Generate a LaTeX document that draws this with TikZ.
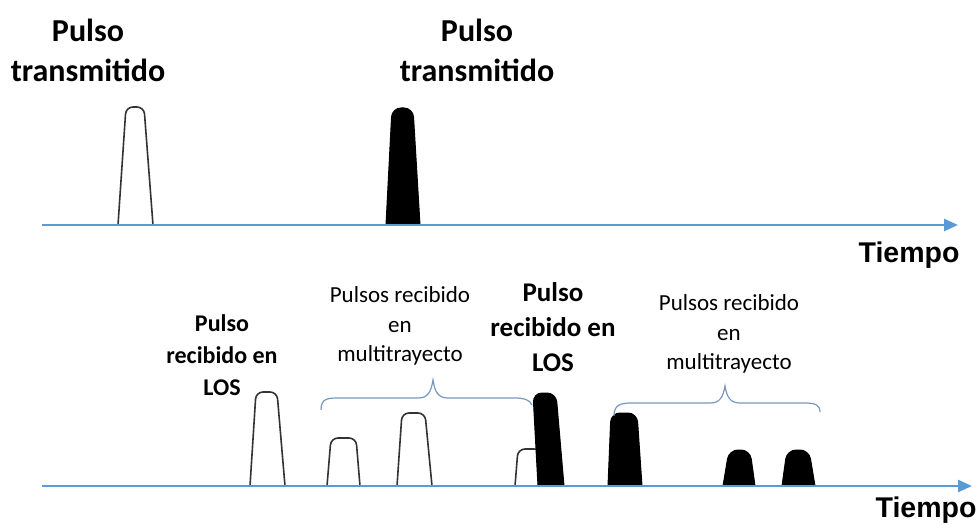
\documentclass[tikz,border=0pt]{standalone}
\usepackage{fontspec}
\setmainfont{Carlito}
\newfontfamily\arialb{Liberation Sans}[BoldFont={Liberation Sans Bold}]
\usetikzlibrary{arrows.meta}
\definecolor{axisblue}{RGB}{91,155,213}
\definecolor{bracecol}{RGB}{120,150,190}
\tikzset{
  axisline/.style={draw=axisblue,line width=2.6pt,-{Triangle[length=14pt,width=12pt]}},
  hollowpulse/.style={draw=black!80,line width=1.6pt,rounded corners=7pt,fill=white},
  blackpulse/.style={draw=black,fill=black,line width=1pt,rounded corners=9pt},
  bracepath/.style={draw=bracecol,line width=1.2pt},
  bigtitle/.style={font=\fontsize{32}{40}\selectfont\bfseries,align=center,inner sep=0pt},
  lostitle/.style={font=\fontsize{24}{32}\selectfont\bfseries,align=center,inner sep=0pt},
  lostitleb/.style={font=\fontsize{27}{35}\selectfont\bfseries,align=center,inner sep=0pt},
  multitext/.style={font=\fontsize{23}{29.5}\selectfont,align=center,inner sep=0pt},
  timetext/.style={font=\fontsize{28.5}{32}\selectfont\arialb\bfseries,inner sep=0pt}
}
\begin{document}
\begin{tikzpicture}[x=1pt,y=-1pt]
\useasboundingbox (0,0) rectangle (979,529);
% axes
\coordinate (a1s) at (42,225); \coordinate (a1e) at (958,225);
\coordinate (a2s) at (42,486); \coordinate (a2e) at (972,486);
% top pulses
\path[hollowpulse] (118,225) -- (126,107) -- (144,107) -- (153,225);
\path[blackpulse] (386,225) -- (392,108) -- (413,108) -- (420,225);
\draw[axisline] (a1s) -- (a1e);
% bottom pulses
\path[hollowpulse] (250,486) -- (256,392) -- (277,392) -- (285,486);
\path[hollowpulse] (327,486) -- (331,438) -- (356,438) -- (360,486);
\path[hollowpulse] (397,486) -- (402,413) -- (425,413) -- (432,486);
\path[hollowpulse] (515,486) -- (518,449) -- (541,449) -- (545,486);
\path[blackpulse] (538,486) -- (533,393) -- (556,393) -- (564,486);
\path[blackpulse] (608,486) -- (611,413) -- (637,413) -- (642,486);
\path[blackpulse] (723,486) -- (729,450) -- (750,450) -- (755,486);
\path[blackpulse] (782,486) -- (787,450) -- (809,450) -- (815,486);
\draw[axisline] (a2s) -- (a2e);
% braces
\coordinate (b1l) at (321,410); \coordinate (b1t) at (433,380); \coordinate (b1r) at (532,405);
\draw[bracepath] (b1l) .. controls (321,398) and (328,398) .. (340,398) -- (418,398)
  .. controls (428,398) and (431,392) .. (b1t) .. controls (435,392) and (438,398) .. (448,398)
  -- (515,398) .. controls (524,398) and (530,400) .. (b1r);
\coordinate (b2l) at (614,416); \coordinate (b2t) at (725,386); \coordinate (b2r) at (820,412);
\draw[bracepath] (b2l) .. controls (614,405) and (620,403) .. (632,403) -- (710,403)
  .. controls (720,403) and (723,397) .. (b2t) .. controls (727,397) and (730,403) .. (740,403)
  -- (805,403) .. controls (815,403) and (820,405) .. (b2r);
% texts
\node[bigtitle] (t1) at (88,50) {Pulso\\transmitido};
\node[bigtitle] (t2) at (477,50) {Pulso\\transmitido};
\node[timetext] (tt1) at (909,255) {Tiempo};
\node[timetext] (tt2) at (926,510) {Tiempo};
\node[lostitle] (los1) at (222,355) {Pulso\\recibido en\\LOS};
\node[lostitleb] (los2) at (553,327) {Pulso\\recibido en\\LOS};
\node[multitext] (m1) at (400,326) {Pulsos recibido\\en\\multitrayecto};
\node[multitext] (m2) at (729,334) {Pulsos recibido\\en\\multitrayecto};
\end{tikzpicture}
\end{document}
